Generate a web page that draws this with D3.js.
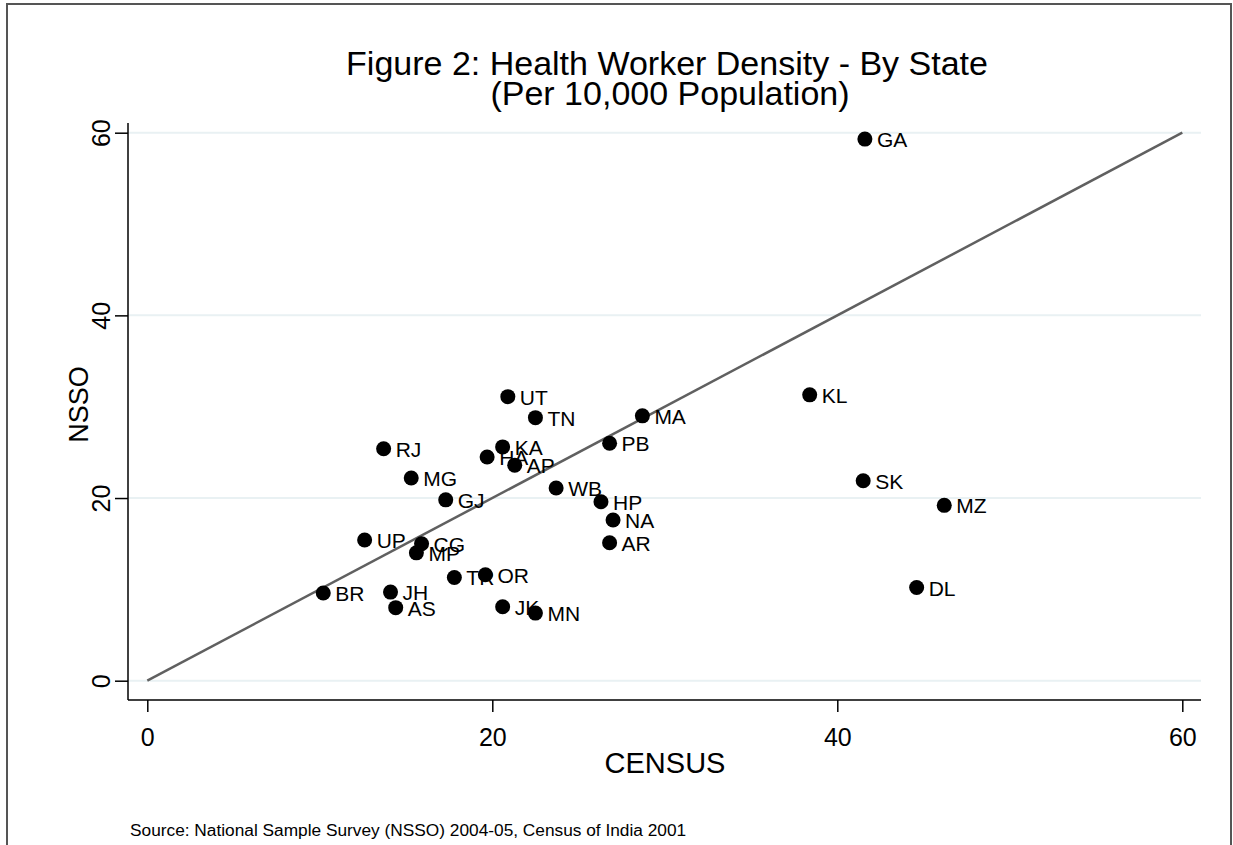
<!DOCTYPE html>
<html>
<head>
<meta charset="utf-8">
<script src="https://cdn.jsdelivr.net/npm/d3@7"></script>
<style>
  html, body { margin: 0; padding: 0; background: #fff; }
  svg { display: block; font-family: "Liberation Sans", Arial, sans-serif; }
</style>
</head>
<body>
<svg id="chart" width="1233" height="845"></svg>
<script>
// State codes with health worker density per 10,000 population
const states = ["GA","KL","SK","MZ","DL","UT","TN","MA","RJ","KA","HA","AP","MG","WB","GJ","HP","NA",
                "UP","CG","MP","AR","TR","OR","BR","JH","AS","JK","MN","PB"];
const census = [41.6,38.4,41.5,46.2,44.6,20.9,22.5,28.7,13.7,20.6,19.7,21.3,15.3,23.7,17.3,26.3,27.0,
                12.6,15.9,15.6,26.8,17.8,19.6,10.2,14.1,14.4,20.6,22.5,26.8];
const nsso   = [59.3,31.3,21.9,19.2,10.2,31.1,28.8,29.0,25.4,25.6,24.5,23.6,22.2,21.1,19.8,19.6,17.6,
                15.4,15.0,14.0,15.1,11.3,11.6,9.6,9.7,8.0,8.1,7.4,26.0];
const xTicks = [0, 20, 40, 60];
const yTicks = [0, 20, 40, 60];
const refLine = [0, 60];

const svg = d3.select("#chart");

// outer frame
svg.append("rect")
  .attr("x", 7).attr("y", 4).attr("width", 1224).attr("height", 860)
  .attr("fill", "none").attr("stroke", "#555").attr("stroke-width", 2);

const x = d3.scaleLinear().domain([0, 60]).range([147.3, 1182.3]);
const y = d3.scaleLinear().domain([0, 60]).range([680.7, 132.7]);
const plotLeft = 128, plotRight = 1201, plotBottom = 700, plotTop = 123;

// horizontal grid lines
svg.append("g").selectAll("line").data(yTicks).join("line")
  .attr("x1", plotLeft).attr("x2", plotRight)
  .attr("y1", d => y(d)).attr("y2", d => y(d))
  .attr("stroke", "#e9f1f3").attr("stroke-width", 2);

// y axis
const yAxis = svg.append("g")
  .attr("transform", `translate(${plotLeft},0)`)
  .call(d3.axisLeft(y).tickValues(yTicks).tickSize(13).tickPadding(14).tickSizeOuter(0));
yAxis.select(".domain").attr("d", `M0,${plotTop}V${plotBottom}`).attr("stroke", "#000").attr("stroke-width", 1.5);
yAxis.selectAll(".tick line").attr("stroke", "#000").attr("stroke-width", 1.5);
yAxis.selectAll(".tick text")
  .attr("font-size", 25).attr("fill", "#000")
  .attr("text-anchor", "middle")
  .attr("x", null).attr("dy", null)
  .attr("transform", "translate(-18,0) rotate(-90)")
  .attr("y", 0);

// x axis
const xAxis = svg.append("g")
  .attr("transform", `translate(0,${plotBottom})`)
  .call(d3.axisBottom(x).tickValues(xTicks).tickSize(12).tickPadding(14).tickSizeOuter(0));
xAxis.select(".domain").attr("d", `M${plotLeft},0H${plotRight}`).attr("stroke", "#000").attr("stroke-width", 1.5);
xAxis.selectAll(".tick line").attr("stroke", "#000").attr("stroke-width", 1.5);
xAxis.selectAll(".tick text").attr("font-size", 25).attr("fill", "#000").attr("dy", null).attr("y", 46);

// 45-degree reference line
svg.append("line")
  .attr("x1", x(refLine[0])).attr("y1", y(refLine[0]))
  .attr("x2", x(refLine[1])).attr("y2", y(refLine[1]))
  .attr("stroke", "#606060").attr("stroke-width", 2.5);

// points and labels
const pts = states.map((s, i) => ({ s, cx: census[i], ny: nsso[i] }));
const g = svg.append("g");
g.selectAll("circle").data(pts).join("circle")
  .attr("cx", d => x(d.cx)).attr("cy", d => y(d.ny)).attr("r", 7.5).attr("fill", "#000");
g.selectAll("text").data(pts).join("text")
  .attr("x", d => x(d.cx) + 12).attr("y", d => y(d.ny) + 8)
  .attr("font-size", 21).attr("fill", "#000")
  .text(d => d.s);

// axis titles
svg.append("text")
  .attr("transform", `translate(88,${(plotTop + plotBottom) / 2 - 7}) rotate(-90)`)
  .attr("text-anchor", "middle").attr("font-size", 27).text("NSSO");
svg.append("text")
  .attr("x", 665).attr("y", 773)
  .attr("text-anchor", "middle").attr("font-size", 29).text("CENSUS");

// title
const title = svg.append("text").attr("text-anchor", "middle").attr("font-size", 34);
title.append("tspan").attr("x", 667).attr("y", 75).text("Figure 2: Health Worker Density - By State");
title.append("tspan").attr("x", 670).attr("y", 105).text("(Per 10,000 Population)");

// source note
svg.append("text")
  .attr("x", 130).attr("y", 836).attr("font-size", 17.3)
  .text("Source: National Sample Survey (NSSO) 2004-05, Census of India 2001");
</script>
</body>
</html>
